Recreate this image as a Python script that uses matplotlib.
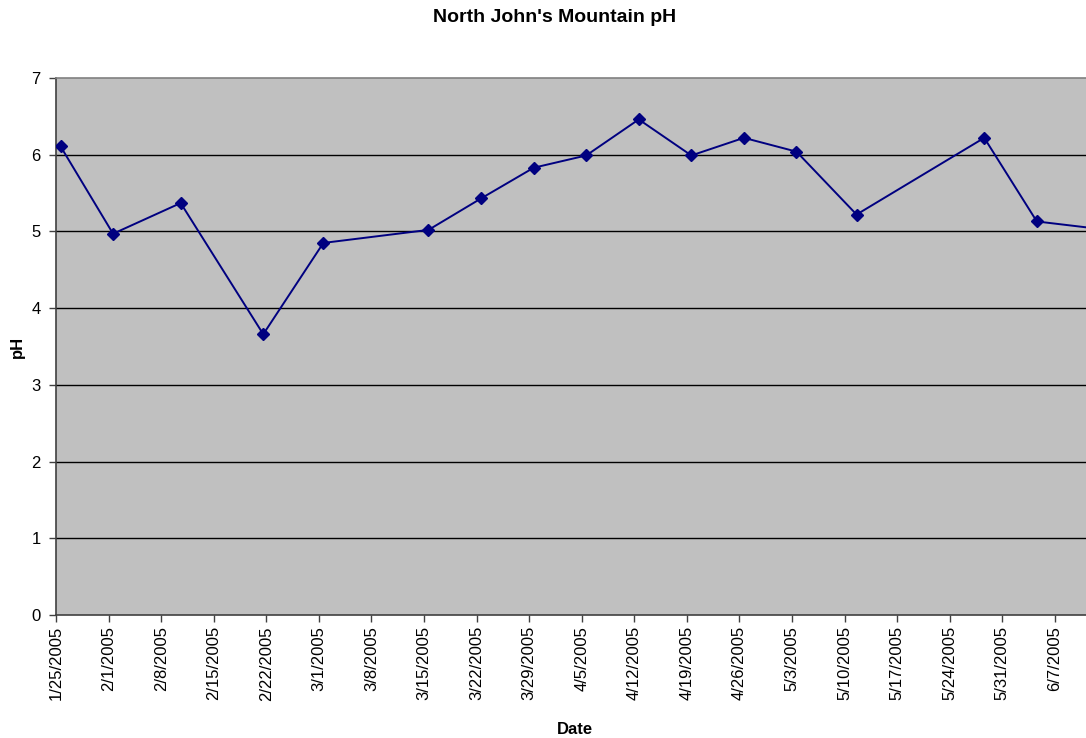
# -*- coding: utf-8 -*-
"""pH theo ngay - North John's Mountain (kieu bieu do Excel cu)."""
import datetime as dt

import matplotlib
matplotlib.use('Agg')
import matplotlib.pyplot as plt

# ngay lay mau va pH do duoc
SAMPLE_DATES = ['2005-01-25', '2005-02-01', '2005-02-10', '2005-02-21',
                '2005-03-01', '2005-03-15', '2005-03-22', '2005-03-29',
                '2005-04-05', '2005-04-12', '2005-04-19', '2005-04-26',
                '2005-05-03', '2005-05-11', '2005-05-28', '2005-06-04',
                '2005-06-16']
PH_VALUES = [6.11, 4.97, 5.37, 3.66, 4.85, 5.02, 5.43, 5.83,
             5.99, 6.46, 5.99, 6.22, 6.04, 5.22, 6.22, 5.13, 4.99]

AXIS_START = dt.datetime(2005, 1, 25)
AXIS_DAYS = 137.15          # khung ve bi cat ngay sau 6/7
TICK_STEP = 7
N_TICKS = 20
PH_TICKS = list(range(0, 8))

BG = '#c0c0c0'
LINE = '#000080'

plt.rcParams['font.family'] = ['Liberation Sans', 'DejaVu Sans']

fig = plt.figure(figsize=(10.86, 7.38), dpi=100)
ax = fig.add_axes([56 / 1086, 123 / 738, 1 - 56 / 1086, 537 / 738])
ax.set_facecolor(BG)

# diem dat giua ngay nhu Excel (between dates)
xs = [dt.datetime.strptime(d, '%Y-%m-%d') + dt.timedelta(days=0.6)
      for d in SAMPLE_DATES]
ax.plot(xs, PH_VALUES, color=LINE, lw=1.4, marker='D', ms=6.2,
        mfc=LINE, mec=LINE, zorder=4)

# luoi ngang den
for v in PH_TICKS[1:-1]:
    ax.axhline(v, color='black', lw=1.0, zorder=2)

ax.set_ylim(0, 7)
ax.set_yticks(PH_TICKS)
ax.set_xlim(AXIS_START, AXIS_START + dt.timedelta(days=AXIS_DAYS))
ticks = [AXIS_START + dt.timedelta(days=TICK_STEP * i) for i in range(N_TICKS)]
ax.set_xticks(ticks)
ax.set_xticklabels([f'{d.month}/{d.day}/{d.year}' for d in ticks],
                   rotation=90, fontsize=12)
ax.tick_params(axis='y', labelsize=12, length=5, width=1, color='#404040', pad=6)
ax.tick_params(axis='x', length=5, width=1, color='#404040', pad=3)

ax.spines['right'].set_visible(False)
ax.spines['top'].set_color('#808080')
ax.spines['left'].set_color('#404040')
ax.spines['bottom'].set_color('#404040')
for s in ax.spines.values():
    s.set_linewidth(1.2)

ax.set_ylabel('pH', fontsize=12, fontweight='bold', va='center')
ax.yaxis.set_label_coords(-0.037, 0.5)
ax.set_xlabel('Date', fontsize=12, fontweight='bold', va='center')
ax.xaxis.set_label_coords(0.504, -0.2123)

fig.text(555 / 1086, 1 - 18 / 738, "North John's Mountain pH",
         ha='center', va='center', fontsize=14, fontweight='bold')

fig.savefig('out.png', dpi=100)
plt.close(fig)
